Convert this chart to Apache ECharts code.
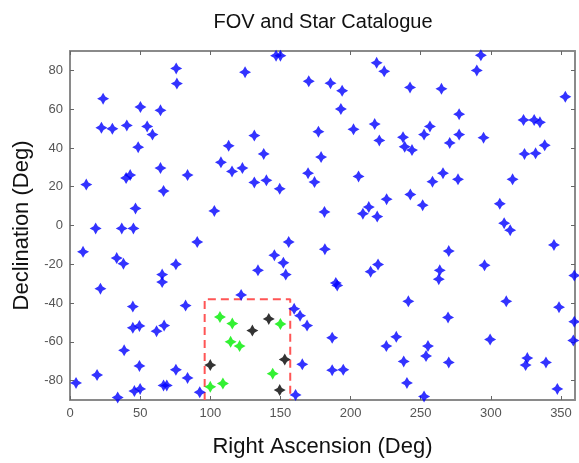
<!DOCTYPE html>
<html>
<head>
<meta charset="utf-8">
<script src="https://cdn.jsdelivr.net/npm/echarts@6/dist/echarts.min.js"></script>
<style>
  html, body { margin: 0; padding: 0; background: #fff; }
  #chart { width: 579px; height: 463px; }
</style>
</head>
<body>
<div id="chart"></div>
<script>
'use strict'
// catalogue stars [right ascension, declination]
var blueStars = [
  [75.7,81],[76.2,73.2],[23.6,65.4],[50.2,61.1],[64.5,59.4],[22.4,50.4],[30.2,49.9],[40.5,51.6],[55,51.1],[58.8,46.9],
  [48.6,40.4],[64.5,29.6],[40,24.5],[42.9,26],[11.6,21.1],[83.8,26],[66.7,17.8],[46.7,8.8],[18.3,-1.5],[36.9,-1.5],[45.2,-1.5],
  [90.7,-8.5],[9.3,-13.6],[33.3,-16.8],[38.1,-19.7],[75.5,-20],[65.7,-25.3],[65.7,-29.2],[21.7,-32.6],[44.8,-41.8],[82.4,-41.3],
  [44.8,-52.8],[49.5,-51.8],[61.7,-54.5],[67.1,-51.6],[38.6,-64.4],[49.5,-72.4],[75.5,-74.4],[83.8,-78.6],[19.3,-77.1],[4.3,-81.2],
  [66.7,-82.5],[69,-82.5],[45.9,-85.4],[50,-84.3],[34,-88.7],[92.5,-86],
  [122,-35.8],[159.8,-43],[164,-46.5],[169,-51.6],[165.6,-71.6],[160.8,-87.4],
  [155.9,-8.5],[181.7,-12.2],[145.7,-15.3],[152.1,-19.2],[153.8,-25.3],[134,-23.1],[189.5,-29.6],[190.5,-30.9],[214.3,-23.8],
  [219.6,-20.1],[186.9,-57.9],[186.9,-74.6],[194.8,-74.4],
  [146.9,87.6],[150,87.6],[124.8,79.1],[170.2,74.4],[185.7,73.4],[194,69.5],[193.1,60.1],[218.6,83.9],[224,79.5],[177.1,48.4],
  [202.1,49.6],[217.2,52.3],[220.5,43.9],[131.4,46.4],[113.1,41.1],[138.1,36.9],[179,35.3],[107.6,32.6],[115.5,27.9],[122.9,29.6],
  [131.4,22.2],[140,23.3],[149.5,18.9],[169.7,27],[174.3,22.4],[205.7,25.3],[102.9,7.5],[181.4,7],[213,9.5],[208.8,6.1],[219,4.6],
  [292.9,87.8],[290,80],[242.4,71.2],[264.8,70.5],[353.1,66.4],[277.4,57.4],[256.6,51.1],[252.4,46.9],[237.4,45.5],[238.6,40.6],
  [243.8,38.9],[270.7,42.6],[277.4,46.9],[294.8,45.3],[323.3,54.4],[330.9,54.4],[335,53.2],[338.4,41.4],[324,36.9],[331.9,37.2],
  [258.4,22.6],[265.9,27],[276.6,23.8],[315.5,23.8],[225.7,13.6],[242.6,16],[251.4,10.5],[306.4,11.2],[309.5,1.2],[313.8,-2.4],
  [345,-10],[270,-13.2],[263.6,-23.1],[262.9,-27.7],[295.5,-20.5],[359.5,-25.8],[241.2,-39.1],[311,-39.1],[348.6,-42.1],[359.5,-49.6],
  [269.5,-47.4],[232.6,-57.4],[225.5,-62.2],[255.2,-62.2],[253.8,-67.3],[237.9,-70.1],[270,-70.6],[299.5,-58.8],[326,-68.4],[324.8,-72],
  [339.3,-70.6],[358.8,-59.3],[240.2,-81.2],[252.4,-88.2],[347.4,-84.3]
];
// stars inside the field of view
var greenStars = [[106.9,-47.2],[115.7,-50.6],[114.5,-60],[120.9,-62.2],[150,-50.8],[144.5,-76.4],[100,-83.2],[109,-81.5]];
var blackStars = [[141.7,-48.2],[130,-54.2],[100,-72],[153.1,-69.1],[149.5,-84.9]];
// FOV outline
var fovBox = [[96,-90],[96,-38],[157,-38],[157,-90]];
var xTicks = [0, 50, 100, 150, 200, 250, 300, 350];
var yTicks = [-80, -60, -40, -20, 0, 20, 40, 60, 80];

var star = 'path://M5,0 L6.8,3.2 L10,5 L6.8,6.8 L5,10 L3.2,6.8 L0,5 L3.2,3.2 Z';
var axisGrey = '#8a8a8a';
var labelGrey = '#555';

function xAx(pos, showLabel) {
  return {
    type: 'value', position: pos, min: 0, max: 360,
    axisLine: { show: true, onZero: false, lineStyle: { color: axisGrey, width: 2 } },
    axisTick: { show: true, inside: true, length: 4, customValues: xTicks, lineStyle: { color: '#666' } },
    axisLabel: { show: showLabel, customValues: xTicks, color: labelGrey, fontSize: 13, margin: 7, fontFamily: 'Liberation Sans' },
    splitLine: { show: false },
    name: showLabel ? 'Right Ascension (Deg)' : '',
    nameLocation: 'middle', nameGap: 36,
    nameTextStyle: { fontSize: 22, color: '#111', fontFamily: 'Liberation Sans' }
  };
}
function yAx(pos, showLabel) {
  return {
    type: 'value', position: pos, min: -90, max: 90,
    axisLine: { show: true, onZero: false, lineStyle: { color: axisGrey, width: 2 } },
    axisTick: { show: true, inside: true, length: 4, customValues: yTicks, lineStyle: { color: '#666' } },
    axisLabel: { show: showLabel, customValues: yTicks, color: labelGrey, fontSize: 13, margin: 7, fontFamily: 'Liberation Sans' },
    splitLine: { show: false },
    name: showLabel ? 'Declination (Deg)' : '',
    nameLocation: 'middle', nameGap: 37,
    nameTextStyle: { fontSize: 22, color: '#111', fontFamily: 'Liberation Sans' }
  };
}

var chart = echarts.init(document.getElementById('chart'));
chart.setOption({
  animation: false,
  backgroundColor: '#fff',
  title: {
    text: 'FOV and Star Catalogue',
    left: 323, top: 12, padding: 0, textAlign: 'center',
    textStyle: { fontSize: 20, fontWeight: 'normal', color: '#111', fontFamily: 'Liberation Sans' }
  },
  grid: { left: 70, right: 4, top: 51, bottom: 58 },
  xAxis: [xAx('bottom', true), xAx('top', false)],
  yAxis: [yAx('left', true), yAx('right', false)],
  series: [
    {
      type: 'line', data: fovBox, showSymbol: false, symbol: 'none',
      lineStyle: { color: '#ff5555', width: 2, type: [8, 5] }, z: 1
    },
    { type: 'scatter', data: blueStars, symbol: star, symbolSize: 12, itemStyle: { color: '#0000ff' }, z: 3 },
    { type: 'scatter', data: greenStars, symbol: star, symbolSize: 12, itemStyle: { color: '#00ee00' }, z: 3 },
    { type: 'scatter', data: blackStars, symbol: star, symbolSize: 12, itemStyle: { color: '#000' }, z: 3 }
  ]
});
</script>
</body>
</html>
